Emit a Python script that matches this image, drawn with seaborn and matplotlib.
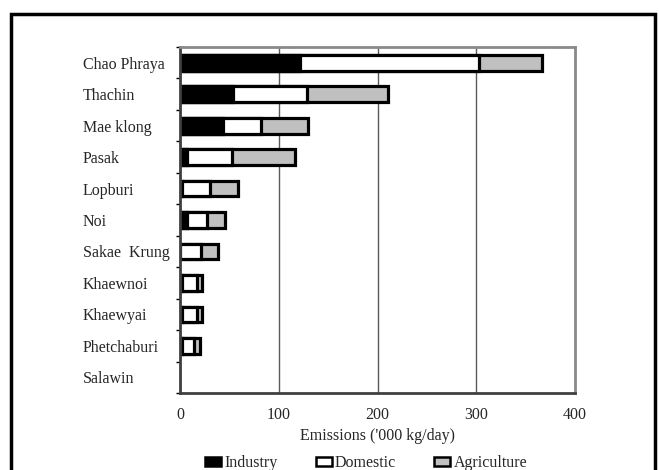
import matplotlib
matplotlib.use("Agg")
import matplotlib.pyplot as plt
from matplotlib.patches import Patch, Rectangle
from matplotlib.ticker import FixedLocator
import seaborn as sns
import pandas as pd
import numpy as np

# River basins and their daily emissions ('000 kg/day) by source
basins = ["Chao Phraya", "Thachin", "Mae klong", "Pasak", "Lopburi", "Noi",
          "Sakae  Krung", "Khaewnoi", "Khaewyai", "Phetchaburi", "Salawin"]
industry = [122, 54, 44, 7, 2, 7, 0, 2, 2, 2, 0]
domestic = [181, 75, 38, 46, 28, 20, 21, 15, 15, 12, 0]
agriculture = [64, 82, 48, 63, 29, 19, 17, 5, 5, 6, 0]
x_ticks = [0, 100, 200, 300, 400]

sns.set_style("white")
plt.rcParams["font.family"] = ["Liberation Serif", "DejaVu Serif"]
plt.rcParams["font.size"] = 11.5

df = pd.DataFrame({"basin": basins, "Industry": industry,
                   "Domestic": domestic, "Agriculture": agriculture})
df["cum_ind"] = df["Industry"]
df["cum_dom"] = df["Industry"] + df["Domestic"]
df["cum_agr"] = df["cum_dom"] + df["Agriculture"]

W, H = 659, 470
fig = plt.figure(figsize=(W / 100, H / 100), dpi=100)
ax = fig.add_axes([180 / W, 1 - 393 / H, (575 - 180) / W, (393 - 47) / H])

bar_kw = dict(orient="h", saturation=1, edgecolor="black", linewidth=2.3,
              width=0.5, ax=ax, errorbar=None)
# Stack by drawing cumulative totals back to front
sns.barplot(data=df, x="cum_agr", y="basin", color="#c0c0c0", **bar_kw)
sns.barplot(data=df, x="cum_dom", y="basin", color="white", **bar_kw)
sns.barplot(data=df, x="cum_ind", y="basin", color="black", **bar_kw)
for p in ax.patches:
    if p.get_width() == 0:
        p.set_visible(False)

ax.set_xlim(0, 400)
ax.set_ylim(len(basins) - 0.5, -0.5)
ax.set_xticks(x_ticks)
ax.set_xticklabels([str(t) for t in x_ticks])
ax.xaxis.grid(True, color="#5a5a5a", linewidth=1)
ax.set_axisbelow(True)
ax.tick_params(axis="x", direction="out", length=3, width=1, color="black", pad=7)

# Category labels left-aligned; tick marks between categories
ax.yaxis.set_minor_locator(FixedLocator(np.arange(-0.5, len(basins), 1)))
ax.tick_params(axis="y", which="minor", direction="out", length=3, width=1,
               color="black", left=True)
ax.tick_params(axis="y", which="major", length=0, pad=70)
for lbl in ax.get_yticklabels():
    lbl.set_horizontalalignment("left")

ax.set_ylabel("")
ax.set_xlabel("Emissions ('000 kg/day)", labelpad=4)

for side in ("left", "bottom"):
    ax.spines[side].set_color("#404040")
    ax.spines[side].set_linewidth(2)
for side in ("top", "right"):
    ax.spines[side].set_color("#8a8a8a")
    ax.spines[side].set_linewidth(2)

handles = [Patch(facecolor="black", edgecolor="black", linewidth=1.8, label="Industry"),
           Patch(facecolor="white", edgecolor="black", linewidth=1.8, label="Domestic"),
           Patch(facecolor="#c0c0c0", edgecolor="black", linewidth=1.8, label="Agriculture")]
fig.legend(handles=handles, loc="center", bbox_to_anchor=(366 / W, 1 - 463 / H),
           ncol=3, frameon=False, handlelength=1.0, handleheight=0.5,
           handletextpad=0.2, columnspacing=2.4, borderpad=0, fontsize=11.5)

# Outer frame around the chart
fig.patches.append(Rectangle((11 / W, -0.02), (655 - 11) / W, 1.02 - 14 / H,
                             transform=fig.transFigure, fill=False,
                             edgecolor="black", linewidth=2.5, clip_on=False))

fig.savefig("out.png", dpi=100)
